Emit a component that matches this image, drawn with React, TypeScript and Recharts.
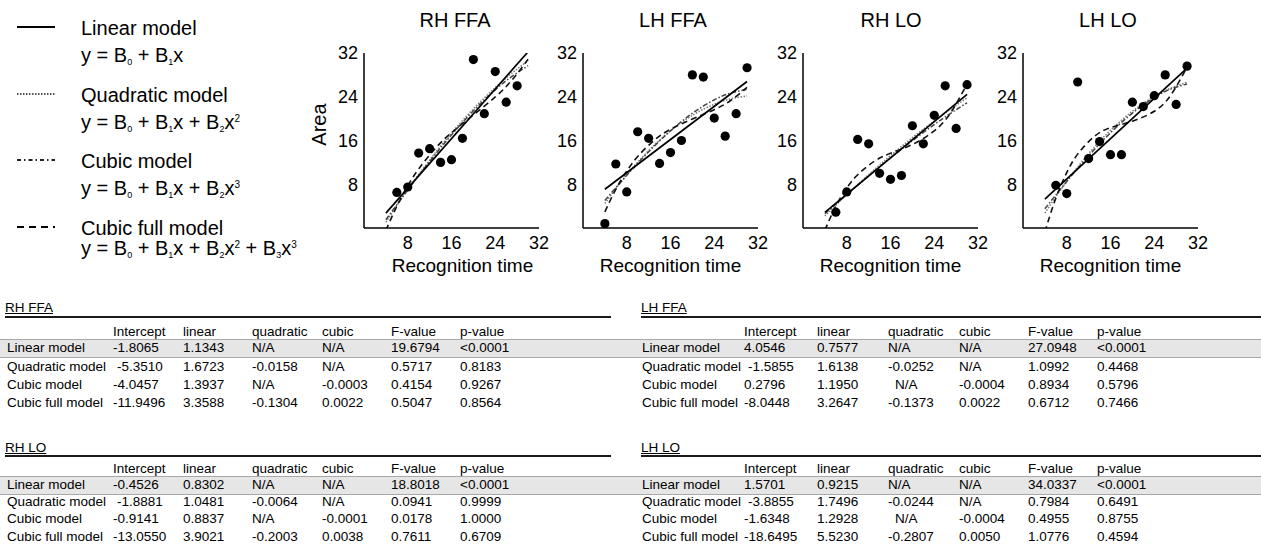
import { ComposedChart, Line, Scatter, XAxis, YAxis } from 'recharts'
import type { ReactNode, CSSProperties } from 'react'

const FONT = '"Liberation Sans", Arial, Helvetica, sans-serif'

// scatter points: recognition time (x) vs area (y)
const rhFfaX = [6, 8, 10, 12, 14, 16, 18, 20, 22, 24, 26, 28]
const rhFfaY = [6.5, 7.5, 13.7, 14.5, 12.0, 12.5, 16.4, 30.8, 20.9, 28.6, 23.0, 26.0]
const lhFfaX = [4, 6, 8, 10, 12, 14, 16, 18, 20, 22, 24, 26, 28, 30]
const lhFfaY = [0.8, 11.7, 6.6, 17.6, 16.4, 11.8, 13.8, 16.0, 28.0, 27.6, 20.1, 16.8, 20.9, 29.3]
const rhLoX = [6, 8, 10, 12, 14, 16, 18, 20, 22, 24, 26, 28, 30]
const rhLoY = [2.9, 6.6, 16.2, 15.4, 10.0, 8.9, 9.6, 18.7, 15.4, 20.6, 26.0, 18.2, 26.2]
const lhLoX = [6, 8, 10, 12, 14, 16, 18, 20, 22, 24, 26, 28, 30]
const lhLoY = [7.8, 6.3, 26.7, 12.7, 15.8, 13.4, 13.4, 23.0, 22.2, 24.2, 28.0, 22.6, 29.6]

// fitted model curves, sampled at these x positions
const linX = [4, 30]
const fitX = [4, 6, 8, 10, 13, 16, 20, 24, 27, 30]

const rhFfaLin = [2.73, 32.22]
const rhFfaQuad = [1.09, 4.11, 7.02, 9.79, 13.72, 17.36, 21.78, 25.68, 28.28, 30.6]
const rhFfaCub = [1.51, 4.25, 6.95, 9.59, 13.41, 17.03, 21.43, 25.26, 27.68, 29.67]
const rhFfaFull = [-0.46, 3.98, 7.7, 10.8, 14.51, 17.42, 20.67, 23.96, 26.98, 30.85]

const lhFfaLin = [7.09, 26.79]
const lhFfaQuad = [4.47, 7.19, 9.71, 12.03, 15.14, 17.78, 20.61, 22.63, 23.62, 24.15]
const lhFfaCub = [5.03, 7.36, 9.64, 11.83, 14.94, 17.76, 20.98, 23.43, 24.67, 25.33]
const lhFfaFull = [2.96, 7.08, 10.41, 13.07, 16.03, 18.05, 19.93, 21.64, 23.31, 25.73]

const rhLoLin = [2.87, 24.45]
const rhLoQuad = [2.2, 4.17, 6.09, 7.95, 10.66, 13.24, 16.51, 19.58, 21.75, 23.8]
const rhLoCub = [2.61, 4.37, 6.1, 7.82, 10.35, 12.82, 15.96, 18.91, 20.98, 22.9]
const rhLoFull = [-0.41, 3.97, 7.29, 9.74, 12.17, 13.67, 15.27, 17.75, 21.08, 26.34]

const lhLoLin = [5.26, 29.22]
const lhLoQuad = [2.72, 5.73, 8.55, 11.17, 14.74, 17.86, 21.35, 24.05, 25.57, 26.64]
const lhLoCub = [3.51, 6.04, 8.5, 10.89, 14.29, 17.41, 21.02, 23.86, 25.4, 26.35]
const lhLoFull = [-0.73, 5.46, 10.13, 13.51, 16.7, 18.34, 19.53, 21.34, 24.26, 29.41]

const axisTicks = [8, 16, 24, 32]

// tables
const tableHead = ['Intercept', 'linear', 'quadratic', 'cubic', 'F-value', 'p-value']
const modelNames = ['Linear model', 'Quadratic model', 'Cubic model', 'Cubic full model']
const rhFfaTable = [
  ['-1.8065', '1.1343', 'N/A', 'N/A', '19.6794', '<0.0001'],
  ['-5.3510', '1.6723', '-0.0158', 'N/A', '0.5717', '0.8183'],
  ['-4.0457', '1.3937', 'N/A', '-0.0003', '0.4154', '0.9267'],
  ['-11.9496', '3.3588', '-0.1304', '0.0022', '0.5047', '0.8564'],
]
const lhFfaTable = [
  ['4.0546', '0.7577', 'N/A', 'N/A', '27.0948', '<0.0001'],
  ['-1.5855', '1.6138', '-0.0252', 'N/A', '1.0992', '0.4468'],
  ['0.2796', '1.1950', 'N/A', '-0.0004', '0.8934', '0.5796'],
  ['-8.0448', '3.2647', '-0.1373', '0.0022', '0.6712', '0.7466'],
]
const rhLoTable = [
  ['-0.4526', '0.8302', 'N/A', 'N/A', '18.8018', '<0.0001'],
  ['-1.8881', '1.0481', '-0.0064', 'N/A', '0.0941', '0.9999'],
  ['-0.9141', '0.8837', 'N/A', '-0.0001', '0.0178', '1.0000'],
  ['-13.0550', '3.9021', '-0.2003', '0.0038', '0.7611', '0.6709'],
]
const lhLoTable = [
  ['1.5701', '0.9215', 'N/A', 'N/A', '34.0337', '<0.0001'],
  ['-3.8855', '1.7496', '-0.0244', 'N/A', '0.7984', '0.6491'],
  ['-1.6348', '1.2928', 'N/A', '-0.0004', '0.4955', '0.8755'],
  ['-18.6495', '5.5230', '-0.2807', '0.0050', '1.0776', '0.4594'],
]

const toPts = (xs: number[], ys: number[]) => xs.map((x, i) => ({ x, y: ys[i] }))

function Txt({ x, y, size, children, center, style }: {
  x: number; y: number; size: number; children: ReactNode; center?: boolean; style?: CSSProperties
}) {
  return (
    <div style={{
      position: 'absolute', left: x, top: y - size * 0.575, fontSize: size, lineHeight: 1.15,
      whiteSpace: 'nowrap', transform: center ? 'translateX(-50%)' : undefined, ...style,
    }}>
      {children}
    </div>
  )
}

const Sub = ({ c }: { c: string }) => <span style={{ fontSize: 9, position: 'relative', top: 3 }}>{c}</span>
const Sup = ({ c }: { c: string }) => <span style={{ fontSize: 10, position: 'relative', top: -7 }}>{c}</span>

const dot = (p: any) => <circle cx={p.cx} cy={p.cy} r={4.6} fill="#000" />

type PanelProps = {
  left: number; title: string; titleX: number; xs: number[]; ys: number[]
  lin: number[]; quad: number[]; cub: number[]; full: number[]; labelDx: number
}

function Panel({ left, title, titleX, xs, ys, lin, quad, cub, full, labelDx }: PanelProps) {
  const axisLine = { stroke: '#000', strokeWidth: 1.5 }
  const tick = { fill: '#000', fontSize: 18, fontFamily: FONT }
  return (
    <>
      <Txt x={titleX} y={20.5} size={20} center>{title}</Txt>
      <div style={{ position: 'absolute', left: left - 60, top: 0 }}>
        <ComposedChart width={255} height={290} margin={{ top: 53, right: 20, bottom: 2, left: 0 }}>
          <XAxis type="number" dataKey="x" domain={[0, 32]} ticks={axisTicks} height={60}
            tickLine={false} axisLine={axisLine} tick={tick} allowDataOverflow
            label={{ value: 'Recognition time', position: 'insideBottom', offset: 16, dx: labelDx, fill: '#000', fontSize: 19, fontFamily: FONT }} />
          <YAxis type="number" dataKey="y" domain={[0, 32]} ticks={axisTicks} width={60} tickSize={4}
            tickLine={false} axisLine={axisLine} tick={tick} allowDataOverflow />
          <Scatter data={toPts(xs, ys)} dataKey="y" shape={dot} isAnimationActive={false} />
          <Line data={toPts(fitX, quad)} dataKey="y" type="natural" stroke="#7a7a7a" strokeWidth={1.5}
            strokeDasharray="1.5 1.5" dot={false} activeDot={false} isAnimationActive={false} />
          <Line data={toPts(fitX, cub)} dataKey="y" type="natural" stroke="#444" strokeWidth={1.5}
            strokeDasharray="5 2 1.5 2" dot={false} activeDot={false} isAnimationActive={false} />
          <Line data={toPts(fitX, full)} dataKey="y" type="natural" stroke="#111" strokeWidth={1.6}
            strokeDasharray="6 4" dot={false} activeDot={false} isAnimationActive={false} />
          <Line data={toPts(linX, lin)} dataKey="y" type="linear" stroke="#000" strokeWidth={1.7}
            dot={false} activeDot={false} isAnimationActive={false} />
        </ComposedChart>
      </div>
    </>
  )
}

function LegendItem({ y, dash, color, name, formula, gap }: {
  y: number; dash?: string; color: string; name: string; formula: ReactNode; gap: number
}) {
  return (
    <>
      <svg style={{ position: 'absolute', left: 15, top: y - 5 }} width={44} height={10}>
        <line x1={2} x2={40} y1={5} y2={5} stroke={color} strokeWidth={2} strokeDasharray={dash} />
      </svg>
      <Txt x={81} y={y + 1} size={20}>{name}</Txt>
      <Txt x={81} y={y + 1 + gap} size={20}>{formula}</Txt>
    </>
  )
}

function StatTable({ title, rows, colX, titleX, ruleX, titleY, ruleY, headY, rowY, nudge }: {
  title: string; rows: string[][]; colX: number[]; titleX: number; ruleX: [number, number]
  titleY: number; ruleY: number; headY: number; rowY: number[]; nudge: boolean
}) {
  const fs = 13.5
  return (
    <>
      <Txt x={titleX} y={titleY} size={fs} style={{ textDecoration: 'underline' }}>{title}</Txt>
      <div style={{ position: 'absolute', left: ruleX[0], width: ruleX[1] - ruleX[0], top: ruleY - 1, height: 2, background: '#1a1a1a' }} />
      {tableHead.map((h, i) => <Txt key={h} x={colX[i + 1]} y={headY} size={fs}>{h}</Txt>)}
      {rows.map((r, ri) => (
        <div key={ri}>
          <Txt x={colX[0]} y={rowY[ri]} size={fs}>{modelNames[ri]}</Txt>
          {r.map((v, ci) => {
            let dx = 0
            if (ri === 1 && ci === 0) dx = 4
            if (nudge && ri === 2 && ci === 2) dx = 7
            return <Txt key={ci} x={colX[ci + 1] + dx} y={rowY[ri]} size={fs}>{v}</Txt>
          })}
        </div>
      ))}
    </>
  )
}

const leftCols = [7, 113, 183, 252, 322, 391, 460]
const rightCols = [642, 744, 817, 888, 959, 1028, 1097]

export default function App() {
  return (
    <div style={{
      position: 'absolute', left: 0, top: 0, width: 1261, height: 556, overflow: 'hidden',
      background: '#fff', color: '#000', fontFamily: FONT,
    }}>
      <LegendItem y={27} gap={27} color="#000" name="Linear model"
        formula={<>y = B<Sub c="0" /> + B<Sub c="1" />x</>} />
      <LegendItem y={94} gap={27} dash="1.5 1.5" color="#555" name="Quadratic model"
        formula={<>y = B<Sub c="0" /> + B<Sub c="1" />x + B<Sub c="2" />x<Sup c="2" /></>} />
      <LegendItem y={160} gap={27} dash="4 3 1.5 3" color="#222" name="Cubic model"
        formula={<>y = B<Sub c="0" /> + B<Sub c="1" />x + B<Sub c="2" />x<Sup c="3" /></>} />
      <LegendItem y={227} gap={20} dash="7 5" color="#000" name="Cubic full model"
        formula={<>y = B<Sub c="0" /> + B<Sub c="1" />x + B<Sub c="2" />x<Sup c="2" /> + B<Sub c="3" />x<Sup c="3" /></>} />

      <Txt x={318.5} y={124} size={20} center style={{ transform: 'translateX(-50%) rotate(-90deg)' }}>Area</Txt>

      <Panel left={364} title="RH FFA" titleX={455} xs={rhFfaX} ys={rhFfaY}
        lin={rhFfaLin} quad={rhFfaQuad} cub={rhFfaCub} full={rhFfaFull} labelDx={11} />
      <Panel left={583} title="LH FFA" titleX={673} xs={lhFfaX} ys={lhFfaY}
        lin={lhFfaLin} quad={lhFfaQuad} cub={lhFfaCub} full={lhFfaFull} labelDx={0} />
      <Panel left={803} title="RH LO" titleX={891} xs={rhLoX} ys={rhLoY}
        lin={rhLoLin} quad={rhLoQuad} cub={rhLoCub} full={rhLoFull} labelDx={0} />
      <Panel left={1023} title="LH LO" titleX={1108} xs={lhLoX} ys={lhLoY}
        lin={lhLoLin} quad={lhLoQuad} cub={lhLoCub} full={lhLoFull} labelDx={0} />

      {/* highlighted "Linear model" rows */}
      <div style={{ position: 'absolute', left: 0, width: 1261, top: 339, height: 17, background: '#e6e6e6', borderTop: '1px solid #a8a8a8', borderBottom: '1px solid #a8a8a8' }} />
      <div style={{ position: 'absolute', left: 0, width: 1261, top: 476, height: 17, background: '#e6e6e6', borderTop: '1px solid #a8a8a8', borderBottom: '1px solid #a8a8a8' }} />

      <StatTable title="RH FFA" rows={rhFfaTable} colX={leftCols} titleX={5} ruleX={[5, 611]}
        titleY={308} ruleY={317} headY={331.5} rowY={[348, 366.5, 384.5, 402.5]} nudge={false} />
      <StatTable title="LH FFA" rows={lhFfaTable} colX={rightCols} titleX={641} ruleX={[641, 1261]}
        titleY={308} ruleY={317} headY={331.5} rowY={[348, 366.5, 384.5, 402.5]} nudge />
      <StatTable title="RH LO" rows={rhLoTable} colX={leftCols} titleX={5} ruleX={[5, 611]}
        titleY={448} ruleY={456} headY={468.5} rowY={[485, 501.5, 518.5, 536.5]} nudge={false} />
      <StatTable title="LH LO" rows={lhLoTable} colX={rightCols} titleX={641} ruleX={[641, 1261]}
        titleY={448} ruleY={456} headY={468.5} rowY={[485, 501.5, 518.5, 536.5]} nudge />
    </div>
  )
}
